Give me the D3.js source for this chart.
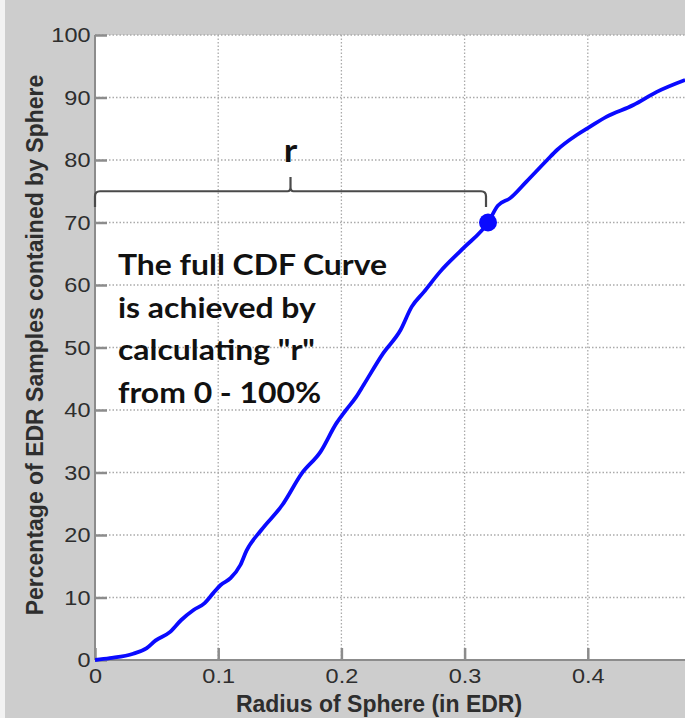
<!DOCTYPE html>
<html>
<head>
<meta charset="utf-8">
<script src="https://cdn.jsdelivr.net/npm/d3@7"></script>
<style>
  html, body { margin: 0; padding: 0; background: #cdcdcd; }
  svg { display: block; }
</style>
</head>
<body>
<svg id="chart" width="685" height="718"></svg>
<script>
// Cumulative distribution of EDR samples enclosed by a sphere of given radius
const radius = [0, 0.012, 0.031, 0.042, 0.049, 0.061, 0.070, 0.080, 0.089, 0.096,
  0.102, 0.110, 0.118, 0.123, 0.135, 0.152, 0.168, 0.183, 0.196, 0.203,
  0.212, 0.218, 0.234, 0.248, 0.257, 0.267, 0.280, 0.299, 0.319, 0.327,
  0.337, 0.350, 0.367, 0.375, 0.391, 0.400, 0.415, 0.437, 0.456, 0.479];
const percent = [0, 0.3, 1.0, 1.9, 3.1, 4.5, 6.4, 8.0, 9.1, 10.7,
  12.0, 13.1, 15.2, 17.5, 20.8, 24.8, 29.9, 33.3, 37.9, 39.8,
  42.1, 44.0, 49.1, 52.8, 56.5, 58.9, 62.1, 65.9, 70.0, 72.7,
  73.9, 76.5, 80.0, 81.6, 84.0, 85.1, 86.9, 88.8, 90.9, 92.8];

// Highlighted sample: the radius that encloses 70% of the samples
const markerRadius = [0.319];
const markerPercent = [70];

const xTicks = [0, 0.1, 0.2, 0.3, 0.4];
const yTicks = [0, 10, 20, 30, 40, 50, 60, 70, 80, 90, 100];
const xTickLabels = ["0", "0.1", "0.2", "0.3", "0.4"];
const yTickLabels = ["0", "10", "20", "30", "40", "50", "60", "70", "80", "90", "100"];

const noteLines = ["The full CDF Curve", "is achieved by", "calculating \"r\"", "from 0 - 100%"];

const svg = d3.select("#chart");
const W = 685, H = 718;
const plotLeft = 95, plotTop = 35, plotBottom = 660;

const x = d3.scaleLinear().domain([0, 0.48]).range([plotLeft, plotLeft + 0.48 * 1232]);
const y = d3.scaleLinear().domain([0, 100]).range([plotBottom, plotTop]);

// figure background
svg.append("rect").attr("width", W).attr("height", H).attr("fill", "#cdcdcd");
svg.append("rect").attr("width", 5).attr("height", H).attr("fill", "#f2f2f2");

// plot area
svg.append("defs").append("clipPath").attr("id", "plotclip")
  .append("rect").attr("x", plotLeft).attr("y", plotTop - 6).attr("width", W - plotLeft).attr("height", plotBottom - plotTop + 12);
svg.append("rect").attr("x", plotLeft).attr("y", plotTop).attr("width", W - plotLeft).attr("height", plotBottom - plotTop).attr("fill", "#ffffff");

// dotted grid
const grid = svg.append("g").attr("stroke", "#aaaaaa").attr("stroke-width", 1.3).attr("stroke-dasharray", "1.5,2");
grid.selectAll("line.v").data(xTicks.filter(d => d > 0)).join("line").attr("class", "v")
  .attr("x1", d => x(d)).attr("x2", d => x(d)).attr("y1", plotTop).attr("y2", plotBottom);
grid.selectAll("line.h").data(yTicks.filter(d => d > 0)).join("line").attr("class", "h")
  .attr("x1", plotLeft).attr("x2", W).attr("y1", d => y(d)).attr("y2", d => y(d));

// axes with inward ticks
const axisColor = "#8c8c8c";
const textColor = "#2e2e2e";
const yAxis = svg.append("g").attr("transform", `translate(${plotLeft},0)`)
  .call(d3.axisLeft(y).tickValues(yTicks).tickSizeInner(-12).tickSizeOuter(0).tickPadding(5)
    .tickFormat((d, i) => yTickLabels[i]));
const xAxis = svg.append("g").attr("transform", `translate(0,${plotBottom})`)
  .call(d3.axisBottom(x).tickValues(xTicks).tickSizeInner(-12).tickSizeOuter(0).tickPadding(8)
    .tickFormat((d, i) => xTickLabels[i]));
[yAxis, xAxis].forEach(a => {
  a.select(".domain").attr("stroke", axisColor).attr("stroke-width", 2);
  a.selectAll(".tick line").attr("stroke", axisColor).attr("stroke-width", 2.5);
  a.selectAll(".tick text").attr("fill", textColor)
    .attr("transform", "scale(1.12,1)")
    .style("font-family", "'Liberation Sans', Arial, sans-serif").style("font-size", "21px");
});
xAxis.select(".domain").attr("d", `M${plotLeft},0H${W}`);
yAxis.select(".domain").attr("d", `M0,${plotTop}V${plotBottom}`);
yAxis.selectAll(".tick text").attr("x", -4);

// axis titles
svg.append("text")
  .attr("transform", "translate(43,345) rotate(-90)")
  .attr("text-anchor", "middle")
  .attr("fill", textColor)
  .style("font-family", "'Liberation Sans', Arial, sans-serif")
  .style("font-size", "23px").style("font-weight", "bold")
  .text("Percentage of EDR Samples contained by Sphere");
svg.append("text")
  .attr("x", 379).attr("y", 712)
  .attr("text-anchor", "middle")
  .attr("fill", textColor)
  .style("font-family", "'Liberation Sans', Arial, sans-serif")
  .style("font-size", "23px").style("font-weight", "bold")
  .text("Radius of Sphere (in EDR)");

// CDF curve
const plot = svg.append("g").attr("clip-path", "url(#plotclip)");
const pts = radius.map((r, i) => [r, percent[i]]);
plot.append("path")
  .datum(pts)
  .attr("fill", "none")
  .attr("stroke", "#0a0aff")
  .attr("stroke-width", 3.8)
  .attr("stroke-linejoin", "round")
  .attr("d", d3.line().curve(d3.curveMonotoneX).x(d => x(d[0])).y(d => y(d[1])));

// brace spanning radius 0 .. marker radius
const bLevel = 75, bEnd = 72.5, bTip = 77.3;
const bx0 = x(0), bx1 = x(markerRadius[0]) - 2, bxm = (bx0 + bx1) / 2;
const by = y(bLevel), byEnd = y(bEnd), byTip = y(bTip);
const brace = d3.path();
brace.moveTo(bx0, byEnd);
brace.lineTo(bx0, by + 5);
brace.quadraticCurveTo(bx0, by, bx0 + 5, by);
brace.lineTo(bxm - 3, by);
brace.quadraticCurveTo(bxm, by, bxm, by - 4);
brace.lineTo(bxm, byTip);
brace.moveTo(bxm, by - 4);
brace.quadraticCurveTo(bxm, by, bxm + 3, by);
brace.lineTo(bx1 - 5, by);
brace.quadraticCurveTo(bx1, by, bx1, by + 5);
brace.lineTo(bx1, byEnd);
svg.append("path").attr("d", brace.toString())
  .attr("fill", "none").attr("stroke", "#4a4a4a").attr("stroke-width", 2.2);

svg.append("text")
  .attr("transform", `translate(${bxm},162) scale(1.1,1)`)
  .attr("text-anchor", "middle")
  .attr("fill", "#111")
  .style("font-family", "Lato, 'Open Sans', sans-serif")
  .style("font-size", "33px").style("font-weight", "bold")
  .text("r");

// highlighted point
svg.selectAll("circle.marker").data(markerRadius).join("circle").attr("class", "marker")
  .attr("cx", d => x(d)).attr("cy", (d, i) => y(markerPercent[i])).attr("r", 9)
  .attr("fill", "#0a0aff");

// explanatory note
const note = svg.append("text")
  .attr("transform", "translate(118,0) scale(1.1,1)")
  .attr("fill", "#111")
  .style("font-family", "Lato, 'Open Sans', sans-serif")
  .style("font-size", "29px").style("font-weight", "bold");
note.selectAll("tspan").data(noteLines).join("tspan")
  .attr("x", 0).attr("y", (d, i) => 275 + i * 42.7)
  .text(d => d);
</script>
</body>
</html>
